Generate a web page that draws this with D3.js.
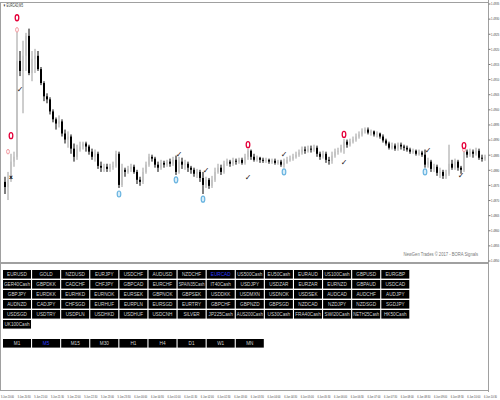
<!DOCTYPE html>
<html><head><meta charset="utf-8">
<script src="https://cdn.jsdelivr.net/npm/d3@7"></script>
<style>html,body{margin:0;padding:0;background:#fff;overflow:hidden}</style>
</head><body><svg id="c" width="500" height="400"></svg>
<script>
const symbolName = "EURCAD";
const timeframeName = "M5";
const chartTitle = "\u25BC EURCAD,M5";
const watermark = "NewGen Trades \u00A9 2017 - BORA Signals";

const opens = [1.48760,1.48743,1.48767,1.48827,1.48843,1.49160,1.49127,1.49177,1.49243,1.49120,
1.49167,1.49177,1.49133,1.49087,1.49043,1.49033,1.48993,1.48967,1.48953,1.48960,
1.48920,1.48900,1.48910,1.48870,1.48843,1.48867,1.48877,1.48887,1.48877,1.48860,
1.48843,1.48853,1.48813,1.48807,1.48810,1.48803,1.48810,1.48813,1.48853,1.48750,
1.48800,1.48793,1.48803,1.48810,1.48793,1.48767,1.48760,1.48793,1.48817,1.48843,
1.48837,1.48817,1.48807,1.48823,1.48817,1.48827,1.48820,1.48833,1.48793,1.48827,
1.48817,1.48820,1.48807,1.48800,1.48787,1.48793,1.48773,1.48750,1.48767,1.48747,
1.48767,1.48793,1.48807,1.48793,1.48820,1.48827,1.48820,1.48830,1.48827,1.48833,
1.48823,1.48843,1.48863,1.48843,1.48833,1.48840,1.48833,1.48830,1.48833,1.48827,
1.48830,1.48823,1.48827,1.48817,1.48823,1.48833,1.48837,1.48843,1.48850,1.48857,
1.48867,1.48863,1.48870,1.48867,1.48873,1.48853,1.48843,1.48853,1.48833,1.48830,
1.48847,1.48860,1.48863,1.48873,1.48893,1.48883,1.48893,1.48900,1.48910,1.48917,
1.48927,1.48933,1.48923,1.48927,1.48917,1.48920,1.48910,1.48897,1.48887,1.48873,
1.48880,1.48870,1.48883,1.48877,1.48873,1.48867,1.48860,1.48863,1.48853,1.48857,
1.48850,1.48817,1.48827,1.48803,1.48810,1.48790,1.48793,1.48780,1.48787,1.48820,
1.48807,1.48827,1.48807,1.48800,1.48860,1.48850,1.48860,1.48853,1.48863,1.48840,
1.48837];
const highs = [1.48777,1.48793,1.48853,1.48860,1.49260,1.49193,1.49227,1.49253,1.49267,1.49193,
1.49200,1.49193,1.49140,1.49093,1.49053,1.49040,1.49000,1.48973,1.48980,1.48967,
1.48933,1.48927,1.48917,1.48887,1.48883,1.48893,1.48893,1.48893,1.48883,1.48870,
1.48867,1.48860,1.48827,1.48820,1.48820,1.48820,1.48827,1.48863,1.48860,1.48820,
1.48807,1.48813,1.48820,1.48817,1.48800,1.48777,1.48807,1.48827,1.48853,1.48850,
1.48843,1.48827,1.48833,1.48830,1.48833,1.48837,1.48843,1.48847,1.48843,1.48840,
1.48833,1.48827,1.48813,1.48807,1.48803,1.48800,1.48793,1.48777,1.48773,1.48780,
1.48807,1.48820,1.48817,1.48830,1.48837,1.48833,1.48840,1.48837,1.48840,1.48840,
1.48853,1.48870,1.48867,1.48853,1.48847,1.48843,1.48840,1.48840,1.48837,1.48837,
1.48837,1.48833,1.48833,1.48837,1.48843,1.48847,1.48853,1.48860,1.48867,1.48877,
1.48877,1.48880,1.48880,1.48883,1.48880,1.48860,1.48863,1.48860,1.48843,1.48860,
1.48870,1.48873,1.48883,1.48903,1.48900,1.48903,1.48910,1.48920,1.48927,1.48937,
1.48940,1.48940,1.48933,1.48930,1.48927,1.48923,1.48917,1.48903,1.48893,1.48890,
1.48887,1.48890,1.48890,1.48883,1.48880,1.48873,1.48870,1.48867,1.48867,1.48863,
1.48867,1.48840,1.48833,1.48820,1.48817,1.48807,1.48800,1.48800,1.48883,1.48833,
1.48837,1.48833,1.48813,1.48870,1.48867,1.48870,1.48867,1.48873,1.48870,1.48850,
1.48850];
const lows = [1.48720,1.48700,1.48760,1.48810,1.48833,1.49110,1.48987,1.49127,1.49113,1.49093,
1.49120,1.49127,1.49080,1.49027,1.49020,1.48983,1.48957,1.48933,1.48940,1.48910,
1.48887,1.48873,1.48853,1.48827,1.48833,1.48860,1.48867,1.48860,1.48850,1.48833,
1.48827,1.48803,1.48793,1.48793,1.48793,1.48793,1.48800,1.48807,1.48740,1.48743,
1.48777,1.48787,1.48793,1.48787,1.48753,1.48747,1.48753,1.48787,1.48810,1.48827,
1.48807,1.48793,1.48800,1.48807,1.48810,1.48810,1.48813,1.48783,1.48787,1.48803,
1.48800,1.48793,1.48787,1.48777,1.48773,1.48760,1.48720,1.48740,1.48737,1.48740,
1.48760,1.48787,1.48783,1.48787,1.48813,1.48810,1.48813,1.48817,1.48820,1.48817,
1.48817,1.48833,1.48833,1.48827,1.48827,1.48823,1.48823,1.48823,1.48820,1.48820,
1.48817,1.48817,1.48810,1.48807,1.48820,1.48827,1.48830,1.48837,1.48843,1.48850,
1.48853,1.48857,1.48857,1.48860,1.48843,1.48833,1.48837,1.48823,1.48817,1.48820,
1.48840,1.48850,1.48857,1.48853,1.48873,1.48877,1.48887,1.48893,1.48903,1.48910,
1.48920,1.48917,1.48913,1.48910,1.48907,1.48903,1.48890,1.48880,1.48867,1.48867,
1.48863,1.48863,1.48867,1.48863,1.48860,1.48853,1.48853,1.48847,1.48847,1.48843,
1.48807,1.48807,1.48793,1.48793,1.48780,1.48773,1.48770,1.48770,1.48780,1.48800,
1.48800,1.48797,1.48787,1.48793,1.48840,1.48843,1.48840,1.48847,1.48833,1.48827,
1.48830];
const closes = [1.48743,1.48767,1.48827,1.48843,1.49160,1.49127,1.49177,1.49243,1.49120,1.49167,
1.49177,1.49133,1.49087,1.49043,1.49033,1.48993,1.48967,1.48953,1.48960,1.48920,
1.48900,1.48910,1.48870,1.48843,1.48867,1.48877,1.48887,1.48877,1.48860,1.48843,
1.48853,1.48813,1.48807,1.48810,1.48803,1.48810,1.48813,1.48853,1.48750,1.48800,
1.48793,1.48803,1.48810,1.48793,1.48767,1.48760,1.48793,1.48817,1.48843,1.48837,
1.48817,1.48807,1.48823,1.48817,1.48827,1.48820,1.48833,1.48793,1.48827,1.48817,
1.48820,1.48807,1.48800,1.48787,1.48793,1.48773,1.48750,1.48767,1.48747,1.48767,
1.48793,1.48807,1.48793,1.48820,1.48827,1.48820,1.48830,1.48827,1.48833,1.48823,
1.48843,1.48863,1.48843,1.48833,1.48840,1.48833,1.48830,1.48833,1.48827,1.48830,
1.48823,1.48827,1.48817,1.48823,1.48833,1.48837,1.48843,1.48850,1.48857,1.48867,
1.48863,1.48870,1.48867,1.48873,1.48853,1.48843,1.48853,1.48833,1.48830,1.48847,
1.48860,1.48863,1.48873,1.48893,1.48883,1.48893,1.48900,1.48910,1.48917,1.48927,
1.48933,1.48923,1.48927,1.48917,1.48920,1.48910,1.48897,1.48887,1.48873,1.48880,
1.48870,1.48883,1.48877,1.48873,1.48867,1.48860,1.48863,1.48853,1.48857,1.48850,
1.48817,1.48827,1.48803,1.48810,1.48790,1.48793,1.48780,1.48787,1.48820,1.48807,
1.48827,1.48807,1.48800,1.48860,1.48850,1.48860,1.48853,1.48863,1.48840,1.48837,
1.48843];

const priceTicks = [1.4935,1.4930,1.4925,1.4920,1.4915,1.4910,1.4905,1.4900,1.4895,
1.4890,1.4885,1.4880,1.4875,1.4870,1.4865,1.4860,1.4855,1.4850];

const timeLabels = ["5 Jun 20:00","5 Jun 20:30","5 Jun 21:00","5 Jun 21:30","5 Jun 22:00",
"5 Jun 22:30","5 Jun 23:00","5 Jun 23:30","6 Jun 00:00","6 Jun 00:30","6 Jun 01:00",
"6 Jun 01:30","6 Jun 02:00","6 Jun 02:30","6 Jun 03:00","6 Jun 03:30","6 Jun 04:00",
"6 Jun 04:30","6 Jun 05:00","6 Jun 05:30","6 Jun 06:00","6 Jun 06:30","6 Jun 07:00",
"6 Jun 07:30","6 Jun 08:00","6 Jun 08:30","6 Jun 09:00","6 Jun 09:30","6 Jun 10:00","6 Jun 10:30"];

// signal arrows: bar index + price level
const sellBars = [2, 4, 81, 113, 153];
const sellLevels = [1.48913, 1.49303, 1.48883, 1.48917, 1.48880];
const alertBars = [1, 4, 153];
const alertLevels = [1.48860, 1.49263, 1.48867];
const buyBars = [38, 57, 66, 93, 140];
const buyLevels = [1.48720, 1.48767, 1.48703, 1.48793, 1.48793];
const checkBars = [5, 58, 67, 81, 93, 113, 141, 152];
const checkLevels = [1.49067, 1.48853, 1.48800, 1.48777, 1.48853, 1.48827, 1.48867, 1.48783];
const crossBars = [2];
const crossLevels = [1.48777];

const symbols = ["EURUSD","GOLD","NZDUSD","EURJPY","USDCHF","AUDUSD","NZDCHF","EURCAD","US500Cash","EU50Cash","EURAUD","US100Cash","GBPUSD","EURGBP",
"GER40Cash","GBPDKK","CADCHF","CHFJPY","GBPCAD","EURCHF","SPAIN35Cash","IT40Cash","USDJPY","USDZAR","EURZAR","EURNZD","GBPAUD","USDCAD",
"GBPJPY","EURDKK","EURHKD","EURNOK","EURSEK","GBPNOK","GBPSEK","USDDKK","USDMXN","USDNOK","USDSEK","AUDCAD","AUDCHF","AUDJPY",
"AUDNZD","CADJPY","CHFSGD","EURHUF","EURPLN","EURSGD","EURTRY","GBPCHF","GBPNZD","GBPSGD","NZDCAD","NZDJPY","NZDSGD","SGDJPY",
"USDSGD","USDTRY","USDPLN","USDHKD","USDHUF","USDCNH","SILVER","JP225Cash","AUS200Cash","US30Cash","FRA40Cash","SWI20Cash","NETH25Cash","HK50Cash",
"UK100Cash"];
const timeframes = ["M1","M5","M15","M30","H1","H4","D1","W1","MN"];

const svg = d3.select("#c");
const font = "'Liberation Sans','Arial',sans-serif";
const frameColor = "#a0a0a0";
const axisX = 488, mainTop = 2, mainBottom = 263, panelBottom = 390;

// squeeze text horizontally (about its anchor x) to look like the narrow terminal font
function squeeze(sel, ratio, maxW) {
  sel.each(function() {
    const w = this.getComputedTextLength();
    const r = Math.min(ratio, maxW / w);
    const ax = +d3.select(this).attr("x") || 0;
    d3.select(this).attr("transform", `matrix(${r},0,0,1,${ax * (1 - r)},0)`);
  });
}

const x = d3.scaleBand().domain(d3.range(closes.length)).range([3.5, 3.5 + 3 * closes.length]);
const y = d3.scaleLinear().domain([1.4936, 1.4850]).range([0.5, 260.5]);
const cx = i => x(i) + x.bandwidth() / 2;

// frame
svg.append("rect").attr("x",0).attr("y",0).attr("width",500).attr("height",400).attr("fill","#fff");
const frame = svg.append("g").attr("stroke", frameColor).attr("fill","none");
frame.append("line").attr("x1",0.5).attr("x2",0.5).attr("y1",mainTop).attr("y2",panelBottom);
frame.append("line").attr("x1",0).attr("x2",axisX).attr("y1",mainTop+0.5).attr("y2",mainTop+0.5);
frame.append("line").attr("x1",0).attr("x2",axisX).attr("y1",mainBottom).attr("y2",mainBottom).attr("stroke-width",2);
frame.append("line").attr("x1",0).attr("x2",axisX).attr("y1",panelBottom+0.5).attr("y2",panelBottom+0.5);
frame.append("line").attr("x1",axisX+0.5).attr("x2",axisX+0.5).attr("y1",0).attr("y2",panelBottom+2);

// title
svg.append("text").attr("x",3).attr("y",7.5).attr("font-family",font).attr("font-size",4.6).attr("fill","#333").text(chartTitle)
  .call(squeeze, 0.8, 20);

// price axis
const yAxis = d3.axisRight(y).tickValues(priceTicks).tickSize(2).tickFormat(d3.format(".4f"));
const ag = svg.append("g").attr("transform",`translate(${axisX+0.5},0)`).call(yAxis);
ag.select(".domain").remove();
ag.selectAll("line").attr("stroke","#777");
ag.selectAll("text").attr("font-family",font).attr("font-size",4.2).attr("fill","#444").attr("x",2.5)
  .call(squeeze, 0.8, 8.2);

// candles
svg.append("clipPath").attr("id","cp").append("rect").attr("x",1).attr("y",mainTop+1).attr("width",axisX-1).attr("height",mainBottom-mainTop-2);
const cg = svg.append("g").attr("clip-path","url(#cp)");
const idx = d3.range(closes.length);
const up = i => closes[i] >= opens[i];
cg.selectAll("line.w").data(idx).join("line").attr("class","w")
  .attr("x1",i=>cx(i)).attr("x2",i=>cx(i))
  .attr("y1",i=>y(highs[i])).attr("y2",i=>y(lows[i]))
  .attr("stroke",i=>up(i)?"#9c9c9c":"#000").attr("stroke-width",1);
cg.selectAll("rect.b").data(idx).join("rect").attr("class","b")
  .attr("x",i=>cx(i)-1).attr("width",2)
  .attr("y",i=>y(Math.max(opens[i],closes[i])))
  .attr("height",i=>Math.max(1,Math.abs(y(opens[i])-y(closes[i]))))
  .attr("fill",i=>up(i)?"#c4c4c4":"#000");

// signals
const sg = svg.append("g");
sg.selectAll("ellipse.a").data(alertBars).join("ellipse").attr("class","a")
  .attr("cx",(b)=>cx(b)).attr("cy",(b,k)=>y(alertLevels[k])).attr("rx",1.4).attr("ry",2.3)
  .attr("fill","#fff").attr("stroke","#f39aa0").attr("stroke-width",1);
sg.selectAll("ellipse.s").data(sellBars).join("ellipse").attr("class","s")
  .attr("cx",(b)=>cx(b)).attr("cy",(b,k)=>y(sellLevels[k])).attr("rx",1.8).attr("ry",3)
  .attr("fill","#fff").attr("stroke","#e5003a").attr("stroke-width",1.3);
sg.selectAll("ellipse.u").data(buyBars).join("ellipse").attr("class","u")
  .attr("cx",(b)=>cx(b)).attr("cy",(b,k)=>y(buyLevels[k])).attr("rx",1.8).attr("ry",3)
  .attr("fill","#d8eefa").attr("stroke","#6ab4e0").attr("stroke-width",1.2);
sg.selectAll("text.k").data(checkBars).join("text").attr("class","k")
  .attr("x",(b)=>cx(b)).attr("y",(b,k)=>y(checkLevels[k])+3).attr("text-anchor","middle")
  .attr("font-family","DejaVu Sans").attr("font-size",8).attr("fill","#111").text("\u2713");
sg.selectAll("text.x").data(crossBars).join("text").attr("class","x")
  .attr("x",(b)=>cx(b)).attr("y",(b,k)=>y(crossLevels[k])+2.5).attr("text-anchor","middle")
  .attr("font-family","DejaVu Sans").attr("font-weight","bold").attr("font-size",6).attr("fill","#111").text("x");

// watermark
svg.append("text").attr("x",478).attr("y",256).attr("text-anchor","end")
  .attr("font-family",font).attr("font-size",5.2).attr("fill","#777").text(watermark)
  .call(squeeze, 0.8, 78);

// buttons
function drawButtons(list, active, top) {
  const g = svg.append("g");
  list.forEach((name, k) => {
    const col = k % 14, row = Math.floor(k / 14);
    const bx = 3 + col * 29.1, by = top + row * 10;
    g.append("rect").attr("x",bx).attr("y",by).attr("width",28).attr("height",8.6).attr("fill","#000");
    g.append("text").attr("x",bx+14).attr("y",by+6.5).attr("text-anchor","middle")
      .attr("font-family",font).attr("font-size",6).attr("fill",name===active?"#2f3dff":"#d4d4d4").text(name)
      .call(squeeze, 0.78, 26);
  });
}
drawButtons(symbols, symbolName, 270);
drawButtons(timeframes, timeframeName, 339);

// time axis
const tx = d3.scalePoint().domain(timeLabels).range([1, 484]);
svg.append("g").selectAll("text").data(timeLabels).join("text")
  .attr("x",d=>tx(d)).attr("y",398).attr("font-family",font).attr("font-size",4).attr("fill","#444").text(d=>d)
  .call(squeeze, 0.7, 13);
</script></body></html>
